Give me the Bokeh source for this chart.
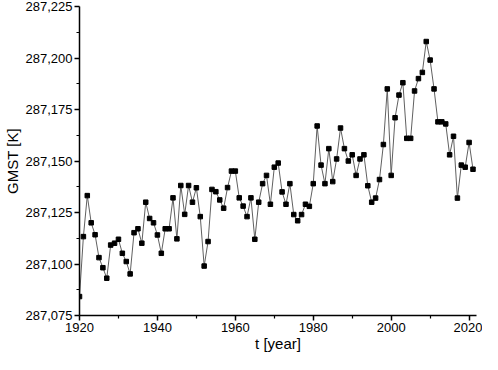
from bokeh.plotting import figure
from bokeh.models import FixedTicker, CustomJSTickFormatter, Range1d
from bokeh.embed import file_html
from bokeh.resources import INLINE

years = list(range(1920, 2022))
gmst = [
    287.0842, 287.1133, 287.1332, 287.1200, 287.1142, 287.1031, 287.0982, 287.0931, 287.1092, 287.1101,
    287.1120, 287.1052, 287.1012, 287.0952, 287.1152, 287.1171, 287.1101, 287.1300, 287.1221, 287.1200,
    287.1141, 287.1052, 287.1171, 287.1171, 287.1321, 287.1122, 287.1381, 287.1241, 287.1381, 287.1300,
    287.1370, 287.1230, 287.0990, 287.1109, 287.1362, 287.1351, 287.1311, 287.1271, 287.1371, 287.1451,
    287.1451, 287.1321, 287.1281, 287.1230, 287.1321, 287.1120, 287.1300, 287.1390, 287.1430, 287.1290,
    287.1470, 287.1490, 287.1350, 287.1290, 287.1390, 287.1240, 287.1210, 287.1240, 287.1290, 287.1280,
    287.1390, 287.1670, 287.1480, 287.1390, 287.1560, 287.1400, 287.1510, 287.1660, 287.1560, 287.1500,
    287.1530, 287.1430, 287.1510, 287.1530, 287.1380, 287.1300, 287.1320, 287.1410, 287.1580, 287.1850,
    287.1430, 287.1710, 287.1820, 287.1880, 287.1610, 287.1610, 287.1840, 287.1900, 287.1930, 287.2080,
    287.1990, 287.1850, 287.1690, 287.1690, 287.1680, 287.1530, 287.1620, 287.1320, 287.1480, 287.1470,
    287.1590, 287.1460,
]
x_ticks = [1920, 1940, 1960, 1980, 2000, 2020]
x_minor = [1930, 1950, 1970, 1990, 2010]
y_ticks = [287.075, 287.100, 287.125, 287.150, 287.175, 287.200, 287.225]
y_minor = [287.0875, 287.1125, 287.1375, 287.1625, 287.1875, 287.2125]

p = figure(width=482, height=354, output_backend="svg", toolbar_location=None,
           x_range=Range1d(1920, 2021.9), y_range=Range1d(287.075, 287.225),
           min_border_left=71, min_border_right=6, min_border_top=6, min_border_bottom=0)
p.outline_line_color = None
p.xgrid.grid_line_color = None
p.ygrid.grid_line_color = None

p.line(years, gmst, line_color="#606060", line_width=1)
p.scatter(years, gmst, marker="square", size=4.5, fill_color="black", line_color="black")

FONT = "Liberation Sans"
p.xaxis.ticker = FixedTicker(ticks=x_ticks, minor_ticks=x_minor)
p.yaxis.ticker = FixedTicker(ticks=y_ticks, minor_ticks=y_minor)
p.yaxis.formatter = CustomJSTickFormatter(code="return tick.toFixed(3).replace('.', ',');")
p.xaxis.axis_label = "t [year]"
p.yaxis.axis_label = "GMST [K]"
for ax in (p.xaxis, p.yaxis):
    ax.axis_line_color = "black"
    ax.axis_line_width = 1.5
    ax.major_tick_line_color = "black"
    ax.major_tick_line_width = 1.5
    ax.minor_tick_line_color = "black"
    ax.minor_tick_line_width = 1.2
    ax.major_tick_in = 0
    ax.major_tick_out = 5
    ax.minor_tick_in = 0
    ax.minor_tick_out = 3
    ax.major_label_text_font = FONT
    ax.major_label_text_font_size = "13px"
    ax.major_label_text_color = "black"
    ax.axis_label_text_font = FONT
    ax.axis_label_text_font_size = "15px"
    ax.axis_label_text_font_style = "normal"
    ax.axis_label_text_color = "black"
    ax.major_label_standoff = 2
p.yaxis.axis_label_standoff = 2
p.xaxis.axis_label_standoff = 0

open("out.html", "w").write(file_html(p, INLINE))
